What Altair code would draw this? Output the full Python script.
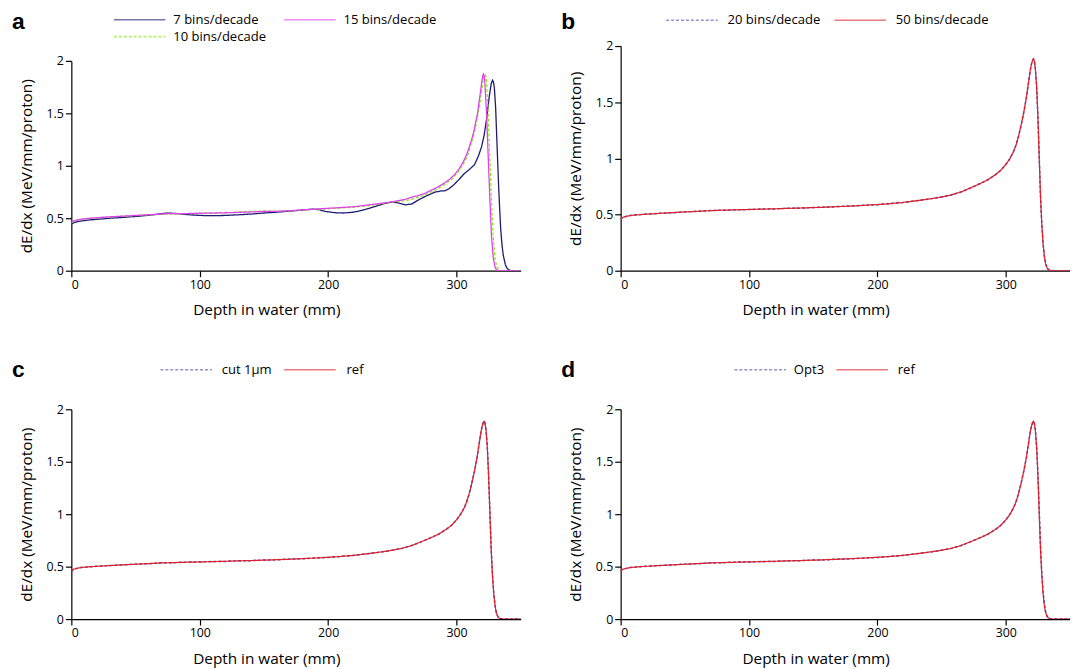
import altair as alt
import pandas as pd

FONT = "Open Sans"

# ---------------- panel a : bins per decade ----------------
a_names = ["7 bins/decade", "10 bins/decade", "15 bins/decade"]
a_colors = ["#1c1c70", "#80ea00", "#e040f0"]
a_dashes = [[1, 0], [3, 2], [1, 0]]

d7 = [0, 2, 5, 10, 15, 20, 30, 40, 50, 60, 68, 75, 82, 90, 100, 110, 120, 130, 140, 150,
      160, 170, 180, 188, 193, 198, 205, 212, 220, 228, 236, 244, 250, 255, 260, 265, 270,
      276, 283, 288, 291, 294, 298, 302, 306, 310, 314, 317, 319.5, 321.5, 323.5, 325.4,
      327, 328, 328.8, 329.5, 330.5, 331.8, 333, 334.4, 335.5, 336.4, 338, 339.5, 341, 343,
      345, 350]
v7 = [0.445, 0.457, 0.468, 0.478, 0.485, 0.49, 0.5, 0.508, 0.517, 0.528, 0.54, 0.55, 0.545,
      0.535, 0.527, 0.524, 0.527, 0.533, 0.54, 0.55, 0.558, 0.568, 0.578, 0.587, 0.582,
      0.565, 0.553, 0.55, 0.558, 0.58, 0.61, 0.64, 0.655, 0.645, 0.628, 0.635, 0.672, 0.71,
      0.748, 0.76, 0.762, 0.78, 0.82, 0.87, 0.925, 0.965, 1.01, 1.09, 1.18, 1.29, 1.45, 1.65,
      1.78, 1.815, 1.8, 1.74, 1.55, 1.13, 0.75, 0.4, 0.24, 0.15, 0.06, 0.02, 0.006, 0.001,
      0, 0]

d10 = [0, 2, 5, 10, 15, 20, 30, 40, 50, 60, 70, 80, 90, 100, 110, 120, 130, 140, 150, 160,
       170, 180, 190, 200, 210, 220, 230, 240, 250, 260, 265, 270, 275, 280, 285, 290, 295,
       298.5, 302, 305, 308, 310, 312, 314, 315.5, 317, 318.5, 319.7, 320.8, 321.6, 322.2,
       322.8, 323.4, 324.5, 325.8, 327.2, 328.5, 330, 331.5, 333, 334.5, 336, 350]
v10 = [0.455, 0.47, 0.482, 0.492, 0.5, 0.505, 0.512, 0.52, 0.525, 0.532, 0.536, 0.54, 0.544,
       0.546, 0.55, 0.554, 0.558, 0.566, 0.57, 0.566, 0.57, 0.578, 0.585, 0.59, 0.598, 0.606,
       0.618, 0.635, 0.652, 0.668, 0.68, 0.7, 0.72, 0.75, 0.78, 0.815, 0.86, 0.9, 0.955, 1.01,
       1.08, 1.15, 1.23, 1.32, 1.41, 1.51, 1.62, 1.72, 1.82, 1.865, 1.875, 1.86, 1.8, 1.55,
       1.13, 0.68, 0.34, 0.11, 0.035, 0.01, 0.002, 0, 0]

d15 = [0, 2, 5, 10, 15, 20, 30, 40, 50, 60, 70, 75, 80, 90, 100, 110, 120, 130, 140, 150,
       160, 170, 180, 190, 200, 210, 220, 230, 240, 250, 260, 265, 270, 275, 280, 285, 290,
       295, 298.5, 302, 305, 308, 310, 312, 313.8, 315, 316.4, 317.5, 318.5, 319.7, 320.5,
       321, 321.5, 322, 323.3, 324.6, 326, 327.2, 328.7, 330, 331, 332, 334, 350]
v15 = [0.46, 0.475, 0.485, 0.495, 0.5, 0.505, 0.514, 0.52, 0.527, 0.533, 0.54, 0.545, 0.543,
       0.545, 0.548, 0.549, 0.552, 0.556, 0.56, 0.565, 0.566, 0.572, 0.58, 0.587, 0.595,
       0.602, 0.61, 0.625, 0.64, 0.657, 0.68, 0.7, 0.715, 0.735, 0.765, 0.795, 0.83, 0.875,
       0.915, 0.97, 1.03, 1.11, 1.18, 1.26, 1.34, 1.42, 1.5, 1.6, 1.69, 1.8, 1.86, 1.875,
       1.86, 1.81, 1.53, 1.12, 0.68, 0.34, 0.116, 0.035, 0.01, 0.003, 0, 0]

# ---------------- reference curve (panels b, c, d) ----------------
d_ref = [0, 1, 2, 4, 7, 10, 15, 20, 30, 40, 50, 60, 70, 80, 90, 100, 110, 120, 130, 140,
         150, 160, 170, 180, 190, 200, 210, 220, 230, 240, 250, 257, 265, 272, 280, 286, 292,
         296, 300, 303, 306, 308, 310, 312, 314, 316, 317.5, 319, 320, 321, 321.6, 322.2,
         323, 324, 325, 326, 327, 328, 329, 330, 331, 332, 333, 334, 336, 340, 350]
v_ref = [0.455, 0.47, 0.476, 0.483, 0.49, 0.494, 0.5, 0.503, 0.51, 0.517, 0.523, 0.529,
         0.535, 0.539, 0.542, 0.545, 0.548, 0.551, 0.555, 0.558, 0.562, 0.566, 0.571, 0.576,
         0.582, 0.589, 0.597, 0.608, 0.622, 0.638, 0.656, 0.673, 0.7, 0.735, 0.775, 0.81,
         0.855, 0.893, 0.945, 0.995, 1.06, 1.12, 1.2, 1.3, 1.41, 1.54, 1.66, 1.78, 1.84,
         1.878, 1.886, 1.868, 1.8, 1.64, 1.37, 1.02, 0.67, 0.42, 0.245, 0.13, 0.063, 0.028,
         0.012, 0.005, 0.001, 0, 0]

# dashed comparison curves (overlap the reference almost exactly)
d_cmp = d_ref
v_20 = [0.452, 0.468, 0.477, 0.482, 0.491, 0.495, 0.499, 0.504, 0.511, 0.516, 0.524, 0.528,
        0.536, 0.538, 0.543, 0.544, 0.549, 0.55, 0.556, 0.557, 0.563, 0.565, 0.572, 0.575,
        0.583, 0.588, 0.598, 0.607, 0.623, 0.637, 0.657, 0.672, 0.701, 0.734, 0.776, 0.809,
        0.856, 0.892, 0.946, 0.994, 1.061, 1.119, 1.201, 1.299, 1.411, 1.539, 1.661, 1.779,
        1.841, 1.877, 1.885, 1.869, 1.802, 1.645, 1.375, 1.025, 0.675, 0.424, 0.248, 0.132,
        0.064, 0.029, 0.012, 0.005, 0.001, 0, 0]
v_cut = v_20
v_opt = [0.453, 0.469, 0.477, 0.482, 0.491, 0.495, 0.499, 0.504, 0.511, 0.516, 0.524, 0.528,
         0.536, 0.538, 0.543, 0.544, 0.549, 0.55, 0.556, 0.557, 0.563, 0.565, 0.572, 0.575,
         0.583, 0.588, 0.598, 0.607, 0.623, 0.637, 0.657, 0.672, 0.701, 0.734, 0.776, 0.809,
         0.856, 0.892, 0.946, 0.994, 1.061, 1.119, 1.201, 1.299, 1.411, 1.539, 1.661, 1.779,
         1.841, 1.877, 1.885, 1.869, 1.805, 1.65, 1.39, 1.05, 0.71, 0.45, 0.27, 0.145,
         0.07, 0.032, 0.014, 0.006, 0.001, 0, 0]

PAIR_COLORS = ["#4a4aaa", "#e0202a"]
PAIR_DASHES = [[3, 2], [1, 0]]

W = 454
ONE = pd.DataFrame({"k": [0]})


def frame(series):
    rows = []
    for name, ds, vs in series:
        for d, v in zip(ds, vs):
            rows.append({"depth": d, "value": v, "series": name})
    return pd.DataFrame(rows)


def legend_layers(names, colors, dashes, slots):
    """Legend entries: slot = (symbol start, label start, row y) relative to plot origin."""
    out = []
    for name, col, dash, (sx, lx, ry) in zip(names, colors, dashes, slots):
        out.append(alt.Chart(ONE).mark_rule(color=col, strokeDash=dash, strokeWidth=1.6,
                                            opacity=0.6)
                   .encode(x=alt.value(sx), x2=alt.value(sx + 52), y=alt.value(ry)))
        out.append(alt.Chart(ONE).mark_text(font=FONT, fontSize=13.2, align="left",
                                            baseline="middle", color="black")
                   .encode(x=alt.value(lx), y=alt.value(ry), text=alt.value(name)))
    return out


def panel(df, names, colors, dashes, widths, height, axis_h, letter, letter_y, slots):
    color = alt.Color("series:N", scale=alt.Scale(domain=names, range=colors), legend=None)
    dash = alt.StrokeDash("series:N", scale=alt.Scale(domain=names, range=dashes),
                          legend=None)
    x = alt.X("depth:Q", scale=alt.Scale(domain=[0, 350], nice=False, zero=False),
              axis=alt.Axis(values=[0, 100, 200, 300], title="Depth in water (mm)",
                            titlePadding=12, titleX=197))
    y = alt.Y("value:Q",
              scale=alt.Scale(domain=[0, 2], nice=False, range=[height, height - axis_h]),
              axis=alt.Axis(values=[0, 0.5, 1, 1.5, 2], format="~g",
                            title="dE/dx (MeV/mm/proton)", titlePadding=12,
                            titleY=height - axis_h / 2))
    layers = []
    for name in names:
        layers.append(
            alt.Chart(df).transform_filter(alt.datum.series == name)
            .mark_line(strokeWidth=widths[name], clip=True)
            .encode(x=x, y=y, color=color, strokeDash=dash)
        )
    lab = alt.Chart(pd.DataFrame({"t": [letter]})).mark_text(
        font="Liberation Sans", fontSize=23, fontWeight="bold", align="left",
        baseline="alphabetic", color="black"
    ).encode(x=alt.value(-60), y=alt.value(letter_y), text="t:N")
    leg = legend_layers(names, colors, dashes, slots)
    return alt.layer(*layers, lab, *leg).properties(width=W, height=height)


df_a = frame([("7 bins/decade", d7, v7), ("10 bins/decade", d10, v10),
              ("15 bins/decade", d15, v15)])
pa = panel(df_a, a_names, a_colors, a_dashes,
           {"7 bins/decade": 1.3, "10 bins/decade": 1.2, "15 bins/decade": 1.3},
           227, 212, "a", -17,
           [(43, 103, -26.5), (43, 103, -9.5), (215, 275, -26.5)])

b_names = ["20 bins/decade", "50 bins/decade"]
df_b = frame([("20 bins/decade", d_cmp, v_20), ("50 bins/decade", d_ref, v_ref)])
pb = panel(df_b, b_names, PAIR_COLORS, PAIR_DASHES,
           {"20 bins/decade": 1.5, "50 bins/decade": 1.2}, 227, 227, "b", -17,
           [(46, 108, -26), (216, 278, -26)])

c_names = ["cut 1μm", "ref"]
df_c = frame([("cut 1μm", d_cmp, v_cut), ("ref", d_ref, v_ref)])
pc = panel(df_c, c_names, PAIR_COLORS, PAIR_DASHES,
           {"cut 1μm": 1.5, "ref": 1.2}, 212, 212, "c", -33,
           [(90, 152, -40), (215, 278, -40)])

d_names = ["Opt3", "ref"]
df_d = frame([("Opt3", d_cmp, v_opt), ("ref", d_ref, v_ref)])
pd_ = panel(df_d, d_names, PAIR_COLORS, PAIR_DASHES,
            {"Opt3": 1.5, "ref": 1.2}, 212, 212, "d", -33,
            [(115, 175, -40), (218, 280, -40)])

row1 = alt.hconcat(pa, pb, spacing=41).resolve_scale(color="independent",
                                                      strokeDash="independent")
row2 = alt.hconcat(pc, pd_, spacing=41).resolve_scale(color="independent",
                                                       strokeDash="independent")
chart = alt.vconcat(row1, row2, spacing=41).resolve_scale(
    color="independent", strokeDash="independent"
).properties(
    padding={"left": 4, "top": 0, "right": 0, "bottom": 0}
).configure_view(stroke=None).configure_axis(
    grid=False, domainColor="black", tickColor="black", labelColor="black",
    titleColor="black", labelFont=FONT, titleFont=FONT, labelFontSize=12.5,
    titleFontSize=15.5, titleFontWeight="normal", tickSize=6, domainWidth=1.2,
    tickWidth=1.2, labelPadding=2
)

chart.save("out.html", embed_options={"renderer": "svg", "actions": False})
